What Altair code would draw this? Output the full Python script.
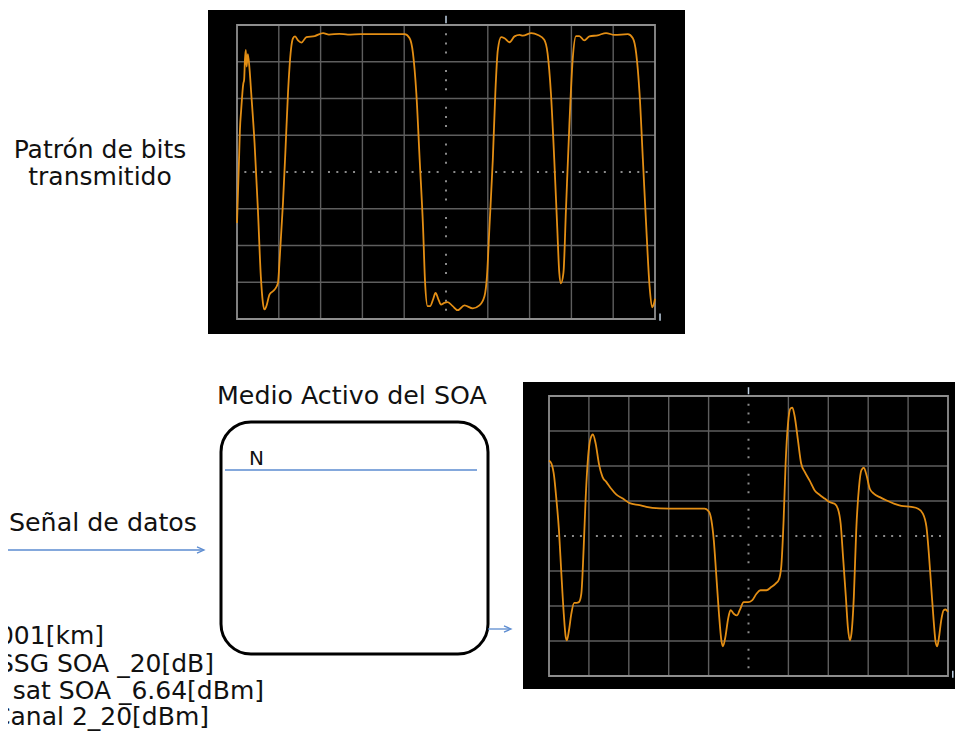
import altair as alt
import pandas as pd

FONT = "DejaVu Sans"
ORANGE = "#e38e14"
GRID = "#5e5e5e"
BORDER = "#8e8e8e"
TICKC = "#9a9a9a"
MARK = "#c0d2e4"
BLUE = "#5b8bd0"

# ---------------- data: top trace (transmitted bit pattern), divisions ----------------
top_x = [0.00, 0.05, 0.07, 0.10, 0.15, 0.17, 0.19, 0.21, 0.23, 0.26, 0.30, 0.34, 0.42, 0.50, 0.57,
         0.62, 0.66, 0.70, 0.78, 0.90, 0.98, 1.02, 1.10, 1.16, 1.22, 1.29, 1.34, 1.39, 1.46, 1.54,
         1.66, 1.86, 2.06, 2.20, 2.45, 2.65, 2.97, 4.01, 4.13, 4.21, 4.29, 4.37, 4.45, 4.50, 4.56,
         4.62, 4.69, 4.75, 4.82, 4.88, 4.96, 5.04, 5.16, 5.28, 5.44, 5.64, 5.80, 5.92, 5.98, 6.04,
         6.12, 6.18, 6.24, 6.32, 6.40, 6.52, 6.64, 6.76, 6.84, 7.04, 7.20, 7.35, 7.43, 7.51, 7.59,
         7.66, 7.71, 7.75, 7.81, 7.87, 7.95, 8.03, 8.11, 8.19, 8.31, 8.43, 8.63, 8.83, 9.03, 9.35,
         9.47, 9.55, 9.63, 9.71, 9.79, 9.87, 9.93, 9.98, 10.00]
top_y = [-1.39, 0.40, 1.15, 1.69, 2.40, 2.50, 3.05, 3.32, 2.87, 3.21, 2.80, 2.15, 0.79, -1.02, -2.84,
         -3.56, -3.74, -3.66, -3.33, -3.20, -3.02, -2.38, -0.84, 0.61, 2.15, 3.32, 3.64, 3.69, 3.58, 3.52,
         3.67, 3.70, 3.78, 3.74, 3.76, 3.74, 3.75, 3.75, 3.64, 3.23, 2.15, 0.34, -1.48, -3.02, -3.65,
         -3.65, -3.47, -3.29, -3.47, -3.61, -3.56, -3.54, -3.65, -3.76, -3.63, -3.71, -3.63, -3.38, -2.84, -1.48,
         0.34, 2.15, 3.32, 3.67, 3.64, 3.53, 3.69, 3.73, 3.71, 3.78, 3.73, 3.60, 3.23, 2.15, 0.34,
         -1.48, -2.74, -3.03, -2.74, -1.02, 1.24, 3.05, 3.70, 3.70, 3.58, 3.69, 3.72, 3.78, 3.73, 3.75,
         3.64, 3.23, 2.15, 0.34, -1.48, -3.11, -3.68, -3.56, -3.45]

# ---------------- data: bottom trace (SOA output), divisions ----------------
bot_x = [0.00, 0.06, 0.13, 0.18, 0.25, 0.31, 0.37, 0.42, 0.45, 0.50, 0.56, 0.63, 0.69, 0.75, 0.81,
         0.87, 0.92, 0.98, 1.04, 1.10, 1.17, 1.25, 1.34, 1.44, 1.56, 1.69, 1.85, 2.02, 2.27, 2.44,
         2.77, 3.27, 3.90, 4.01, 4.07, 4.13, 4.19, 4.26, 4.32, 4.36, 4.42, 4.49, 4.55, 4.63, 4.71,
         4.78, 4.88, 4.99, 5.09, 5.20, 5.30, 5.45, 5.57, 5.68, 5.76, 5.82, 5.88, 5.93, 5.99, 6.05,
         6.10, 6.16, 6.24, 6.32, 6.41, 6.53, 6.66, 6.78, 6.91, 7.03, 7.16, 7.24, 7.31, 7.37, 7.44,
         7.49, 7.54, 7.58, 7.64, 7.70, 7.77, 7.83, 7.89, 7.96, 8.04, 8.14, 8.29, 8.45, 8.66, 8.83,
         9.08, 9.25, 9.37, 9.46, 9.52, 9.58, 9.64, 9.69, 9.73, 9.77, 9.83, 9.89, 9.94, 10.00]
bot_y = [2.16, 2.07, 1.69, 1.11, 0.16, -1.08, -2.22, -2.89, -2.98, -2.70, -2.22, -1.91, -1.91, -1.89, -1.65,
         -0.31, 1.11, 2.26, 2.78, 2.90, 2.64, 2.07, 1.69, 1.54, 1.35, 1.18, 1.07, 0.94, 0.88, 0.83,
         0.79, 0.78, 0.78, 0.69, 0.45, -0.12, -1.08, -2.22, -2.98, -3.15, -2.89, -2.36, -2.12, -2.22, -2.27,
         -2.12, -1.89, -1.89, -1.84, -1.65, -1.55, -1.55, -1.46, -1.36, -1.25, -0.89, 0.45, 2.07, 3.21, 3.64,
         3.67, 3.40, 2.73, 2.07, 1.83, 1.59, 1.30, 1.18, 1.07, 0.97, 0.92, 0.78, 0.35, -0.60, -1.74,
         -2.60, -2.98, -2.79, -1.74, 0.16, 1.40, 1.88, 1.95, 1.73, 1.35, 1.21, 1.11, 1.02, 0.92, 0.86,
         0.83, 0.78, 0.64, 0.26, -0.50, -1.46, -2.41, -3.03, -3.15, -2.93, -2.41, -2.12, -2.10, -2.17]

# ---------------- text ----------------
title_lines = ["Patrón de bits", "transmitido"]
box_title = "Medio Activo del SOA"
input_label = "Señal de datos"
box_label = "N"
param_lines = ["001[km]", "SSG SOA _20[dB]", "sat SOA _6.64[dBm]", "Canal 2_20[dBm]"]

# ---------------- layout (page pixel positions) ----------------
W, H = 947, 724
PX = alt.Scale(domain=[8, 8 + W], range=[0, W], nice=False, zero=False)
PY = alt.Scale(domain=[8, 8 + H], range=[0, H], nice=False, zero=False)


def X(f):
    return alt.X(f, type="quantitative", scale=PX, axis=None)


def Y(f):
    return alt.Y(f, type="quantitative", scale=PY, axis=None)


screens = pd.DataFrame({"x0": [208, 523], "x1": [685, 963], "y0": [10, 382], "y1": [334, 689]})
screen_layer = alt.Chart(screens).mark_rect(color="black").encode(
    x=X("x0"), x2="x1", y=Y("y0"), y2="y1")

box = alt.Chart(pd.DataFrame({"x0": [221], "x1": [488], "y0": [422], "y1": [654]})).mark_rect(
    fill="white", stroke="black", strokeWidth=3, cornerRadius=30).encode(
    x=X("x0"), x2="x1", y=Y("y0"), y2="y1")

lines = pd.DataFrame({"x0": [225, 8, 488], "x1": [477, 203, 510], "y": [470, 550, 629]})
line_layer = alt.Chart(lines).mark_rule(color=BLUE, strokeWidth=1.3).encode(
    x=X("x0"), x2="x1", y=Y("y"))

heads = pd.DataFrame({"x": [204, 511], "y": [550, 629]})
head_layer = alt.Chart(heads).mark_point(
    shape="M -1 -0.45 L 0 0 L -1 0.45", filled=False, size=196, color=BLUE,
    strokeWidth=1.3, opacity=1).encode(x=X("x"), y=Y("y"))

t_center = pd.DataFrame({"x": [100, 100], "y": [158, 185], "t": title_lines})
t_center_layer = alt.Chart(t_center).mark_text(
    align="center", baseline="alphabetic", fontSize=25, font=FONT, color="#111111").encode(
    x=X("x"), y=Y("y"), text="t:N")

t_left = pd.DataFrame({"x": [217, 9], "y": [404, 531], "t": [box_title, input_label]})
t_left_layer = alt.Chart(t_left).mark_text(
    align="left", baseline="alphabetic", fontSize=25.3, font=FONT, color="#111111").encode(
    x=X("x"), y=Y("y"), text="t:N")

t_n = pd.DataFrame({"x": [249], "y": [465], "t": [box_label]})
t_n_layer = alt.Chart(t_n).mark_text(
    align="left", baseline="alphabetic", fontSize=20, font=FONT, color="#111111").encode(
    x=X("x"), y=Y("y"), text="t:N")

t_right = pd.DataFrame({"x": [104, 214, 264, 209], "y": [644, 672, 699, 725], "t": param_lines})
t_right_layer = alt.Chart(t_right).mark_text(
    align="right", baseline="alphabetic", fontSize=25, font=FONT, color="#111111").encode(
    x=X("x"), y=Y("y"), text="t:N")

layout = alt.layer(screen_layer, box, line_layer, head_layer,
                   t_center_layer, t_left_layer, t_n_layer, t_right_layer)


# ---------------- scope screens ----------------
def scope(xs, ys, xr, yr):
    sx = alt.Scale(domain=[0, 10], range=xr, nice=False, zero=False)
    sy = alt.Scale(domain=[-4, 4], range=yr, nice=False, zero=False)

    def SX(f):
        return alt.X(f, type="quantitative", scale=sx, axis=None)

    def SY(f):
        return alt.Y(f, type="quantitative", scale=sy, axis=None)

    vg = pd.DataFrame({"g": [1, 2, 3, 4, 6, 7, 8, 9], "a": -4, "b": 4})
    hg = pd.DataFrame({"g": [-3, -2, -1, 1, 2, 3], "a": 0, "b": 10})
    vgrid = alt.Chart(vg).mark_rule(color=GRID, strokeWidth=1.4).encode(
        x=SX("g"), y=SY("a"), y2="b")
    hgrid = alt.Chart(hg).mark_rule(color=GRID, strokeWidth=1.4).encode(
        y=SY("g"), x=SX("a"), x2="b")
    border = alt.Chart(pd.DataFrame({"x0": [0], "x1": [10], "y0": [-4], "y1": [4]})).mark_rect(
        filled=False, stroke=BORDER, strokeWidth=1.8).encode(
        x=SX("x0"), x2="x1", y=SY("y0"), y2="y1")
    hticks_x = [i / 5 for i in range(1, 50) if i % 5 != 0]
    vticks_y = [i / 4 - 4 for i in range(1, 32) if i % 4 != 0]
    hticks = alt.Chart(pd.DataFrame({"x": hticks_x, "y": 0.0})).mark_square(
        size=4, color=TICKC, opacity=0.9).encode(x=SX("x"), y=SY("y"))
    vticks = alt.Chart(pd.DataFrame({"x": 5.0, "y": vticks_y})).mark_square(
        size=4, color=TICKC, opacity=0.9).encode(x=SX("x"), y=SY("y"))
    marks = alt.Chart(pd.DataFrame({"x": [5.0, 10.12], "a": [4.05, -3.85], "b": [4.25, -4.05]})).mark_rule(
        color=MARK, strokeWidth=1.5).encode(x=SX("x"), y=SY("a"), y2="b")
    trace = alt.Chart(pd.DataFrame({"x": xs, "y": ys, "i": list(range(len(xs)))})).mark_line(
        color=ORANGE, strokeWidth=1.8, interpolate="monotone").encode(
        x=SX("x"), y=SY("y"), order="i:Q")
    return alt.layer(vgrid, hgrid, border, hticks, vticks, marks, trace)


top_scope = scope(top_x, top_y, [229, 647], [311, 17])
bot_scope = scope(bot_x, bot_y, [541, 940], [668, 388])

chart = alt.layer(layout, top_scope, bot_scope).resolve_scale(
    x="independent", y="independent").properties(
    width=W, height=H, padding=0, autosize=alt.AutoSizeParams(type="none"),
    background="white").configure_view(stroke=None)

chart.save("out.html", embed_options={"renderer": "svg", "actions": False})
